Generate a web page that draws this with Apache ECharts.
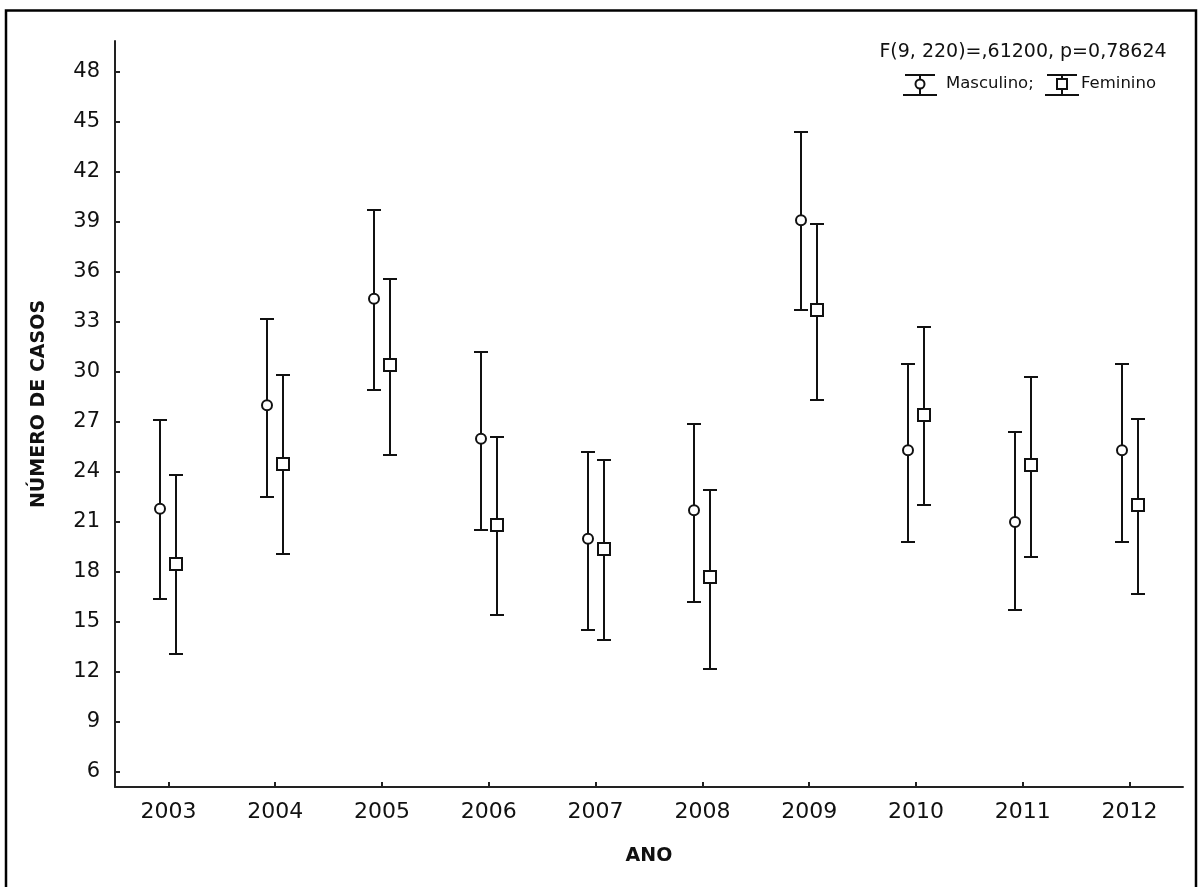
<!DOCTYPE html>
<html>
<head>
<meta charset="utf-8">
<script src="https://cdn.jsdelivr.net/npm/echarts@6/dist/echarts.min.js"></script>
<style>html,body{margin:0;padding:0;background:#fff}#c{width:1203px;height:887px}</style>
</head>
<body>
<div id="c"></div>
<script>
const years = ['2003','2004','2005','2006','2007','2008','2009','2010','2011','2012'];
const mascMean = [21.8, 28.0, 34.4, 26.0, 20.0, 21.7, 39.1, 25.3, 21.0, 25.3];
const mascLow  = [16.4, 22.5, 28.9, 20.5, 14.5, 16.2, 33.7, 19.8, 15.7, 19.8];
const mascHigh = [27.1, 33.2, 39.7, 31.2, 25.2, 26.9, 44.4, 30.5, 26.4, 30.5];
const femMean  = [18.5, 24.5, 30.4, 20.8, 19.4, 17.7, 33.7, 27.4, 24.4, 22.0];
const femLow   = [13.1, 19.1, 25.0, 15.4, 13.9, 12.2, 28.3, 22.0, 18.9, 16.7];
const femHigh  = [23.8, 29.8, 35.6, 26.1, 24.7, 22.9, 38.9, 32.7, 29.7, 27.2];
const yTicks = [6, 9, 12, 15, 18, 21, 24, 27, 30, 33, 36, 39, 42, 45, 48];
const statText = 'F(9, 220)=,61200, p=0,78624';
const seriesNames = ['Masculino;', 'Feminino'];

const FONT = 'DejaVu Sans';
const INK = '#111';

function buildData(low, mean, high) {
  return years.map((y, i) => [i, low[i], mean[i], high[i]]);
}

function makeRender(offset, shape) {
  return function (params, api) {
    const i = api.value(0);
    const pLow = api.coord([i, api.value(1)]);
    const pMid = api.coord([i, api.value(2)]);
    const pHigh = api.coord([i, api.value(3)]);
    const x = Math.round(pMid[0] + offset);
    const yH = Math.round(pHigh[1]);
    const yL = Math.round(pLow[1]);
    const cap = 7;
    const ls = { stroke: INK, lineWidth: 2 };
    const children = [
      { type: 'line', shape: { x1: x, y1: yH, x2: x, y2: yL }, style: ls },
      { type: 'line', shape: { x1: x - cap, y1: yH, x2: x + cap, y2: yH }, style: ls },
      { type: 'line', shape: { x1: x - cap, y1: yL, x2: x + cap, y2: yL }, style: ls }
    ];
    if (shape === 'circle') {
      children.push({ type: 'circle', shape: { cx: x, cy: pMid[1], r: 5 }, style: { fill: '#fff', stroke: INK, lineWidth: 2 }, z2: 10 });
    } else {
      const ym = Math.round(pMid[1]);
      children.push({ type: 'rect', shape: { x: x - 6, y: ym - 6, width: 12, height: 12 }, style: { fill: '#fff', stroke: INK, lineWidth: 2 }, z2: 10 });
    }
    return { type: 'group', children: children };
  };
}

function legendIcon(cx, shape) {
  const ls = { stroke: INK, lineWidth: 2 };
  const ch = [
    { type: 'line', shape: { x1: cx - 15, y1: 75, x2: cx + 15, y2: 75 }, style: ls },
    { type: 'line', shape: { x1: cx - 17, y1: 95, x2: cx + 17, y2: 95 }, style: ls },
    { type: 'line', shape: { x1: cx, y1: 75, x2: cx, y2: 95 }, style: ls }
  ];
  if (shape === 'circle') {
    ch.push({ type: 'circle', shape: { cx: cx, cy: 84, r: 4.5 }, style: { fill: '#fff', stroke: INK, lineWidth: 2 } });
  } else {
    ch.push({ type: 'rect', shape: { x: cx - 5, y: 79, width: 10, height: 10 }, style: { fill: '#fff', stroke: INK, lineWidth: 2 } });
  }
  return { type: 'group', children: ch };
}

const chart = echarts.init(document.getElementById('c'));
chart.setOption({
  animation: false,
  backgroundColor: '#fff',
  grid: { left: 115, right: 20, top: 41, bottom: 100, containLabel: false },
  xAxis: {
    type: 'category',
    data: years,
    boundaryGap: true,
    name: 'ANO',
    nameLocation: 'middle',
    nameGap: 60,
    nameTextStyle: { fontFamily: FONT, fontWeight: 'bold', fontSize: 19, color: INK },
    axisLine: { lineStyle: { color: '#222', width: 2 } },
    axisTick: { show: true, inside: true, length: 5, alignWithLabel: true, lineStyle: { color: '#222', width: 2 } },
    axisLabel: { fontFamily: FONT, fontSize: 22, color: INK, margin: 14, interval: 0 },
    splitLine: { show: false }
  },
  yAxis: {
    type: 'value',
    min: 5.1,
    max: 49.86,
    name: 'NÚMERO DE CASOS',
    nameLocation: 'middle',
    nameRotate: 90,
    nameGap: 66,
    nameTextStyle: { fontFamily: FONT, fontWeight: 'bold', fontSize: 19, color: INK, padding: [0, 0, 0, 20] },
    axisLine: { show: true, lineStyle: { color: '#222', width: 2 } },
    axisTick: { show: true, inside: true, length: 5, customValues: yTicks, lineStyle: { color: '#222', width: 2 } },
    axisLabel: { fontFamily: FONT, fontSize: 21, color: INK, margin: 15, customValues: yTicks },
    splitLine: { show: false }
  },
  series: [
    { name: seriesNames[0], type: 'custom', renderItem: makeRender(-8, 'circle'), encode: { x: 0, y: [1, 2, 3] }, data: buildData(mascLow, mascMean, mascHigh), z: 5 },
    { name: seriesNames[1], type: 'custom', renderItem: makeRender(8, 'square'), encode: { x: 0, y: [1, 2, 3] }, data: buildData(femLow, femMean, femHigh), z: 5 }
  ],
  graphic: [
    { type: 'rect', shape: { x: 6, y: 10.5, width: 1190, height: 900 }, style: { fill: 'none', stroke: '#000', lineWidth: 2.5 }, silent: true },
    { type: 'text', x: 1023, y: 52, style: { text: statText, fontFamily: FONT, fontSize: 19, fill: INK, textAlign: 'center', textVerticalAlign: 'middle' } },
    legendIcon(920, 'circle'),
    { type: 'text', x: 946, y: 84, style: { text: seriesNames[0], fontFamily: FONT, fontSize: 16.5, fill: INK, textAlign: 'left', textVerticalAlign: 'middle' } },
    legendIcon(1062, 'square'),
    { type: 'text', x: 1081, y: 84, style: { text: seriesNames[1], fontFamily: FONT, fontSize: 16.5, fill: INK, textAlign: 'left', textVerticalAlign: 'middle' } }
  ]
});
</script>
</body>
</html>
